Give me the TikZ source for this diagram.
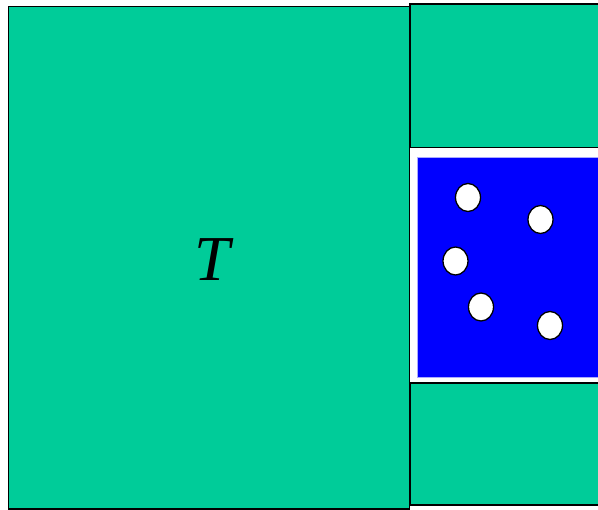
\documentclass[tikz,border=0pt]{standalone}
\usepackage{fontspec}
\setmainfont{Liberation Serif}
\definecolor{tgreen}{RGB}{0,204,153}
\definecolor{tblue}{RGB}{0,0,255}
\definecolor{tlav}{RGB}{170,170,255}
\begin{document}
\begin{tikzpicture}[x=1pt,y=-1pt,
  panel/.style={fill=tgreen,draw=black,line width=1.6pt},
  bead/.style={fill=white,draw=black,line width=1.3pt}]
\useasboundingbox (0,0) rectangle (598,510);
\clip (0,0) rectangle (598,510);
\draw[panel] (8.5,6.5) rectangle (409.5,509);
\draw[panel] (410,4) rectangle (610,147.5);
\draw[panel] (410,383) rectangle (610,505);
\fill[white] (411,149) rectangle (610,381.5);
\draw[fill=tblue,draw=tlav,line width=0.6pt] (417,157) rectangle (610,377);
\draw[bead] (468,197.5) ellipse (12.5 and 14);
\draw[bead] (540.5,219.5) ellipse (12.5 and 14);
\draw[bead] (455.5,261) ellipse (12.5 and 14);
\draw[bead] (481,307) ellipse (12.5 and 14);
\draw[bead] (550,325.5) ellipse (12.5 and 14);
\node (T) at (212,260) {\fontsize{64}{76}\selectfont\itshape T};
\end{tikzpicture}
\end{document}
